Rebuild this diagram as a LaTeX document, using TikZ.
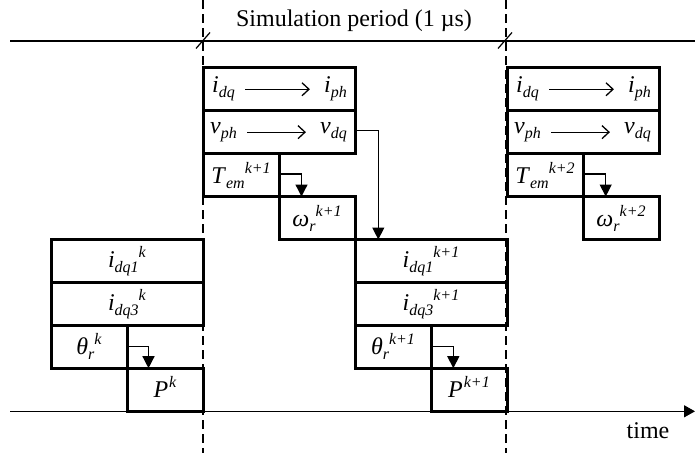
\documentclass[tikz,border=0pt]{standalone}
\usepackage{fontspec}
\setmainfont{Liberation Serif}
\usetikzlibrary{arrows.meta,calc}
\newcommand{\smf}{\fontsize{16}{16}\selectfont}
\newcommand{\vsym}[3]{\textit{#1}\raisebox{-5pt}{\smf\textit{#2}}\raisebox{10pt}{\smf\textit{#3}}}
\tikzset{
  box/.style={draw, line width=3pt, minimum width=152pt, minimum height=42.9pt,
    inner sep=0pt, outer sep=0pt, anchor=north west, font=\fontsize{24}{28}\selectfont},
  half/.style={box, minimum width=76pt},
  lab/.style={inner sep=0pt, font=\fontsize{24}{28}\selectfont},
  flow/.style={line width=1.3pt, -{Triangle[length=12pt,width=12pt]}},
  inarrow/.style={line width=1.3pt, -{Straight Barb[length=7pt,width=13pt]}},
  axisline/.style={line width=1.4pt},
  vdash/.style={line width=1.2pt, dash pattern=on 9pt off 5pt},
}
\begin{document}
\begin{tikzpicture}[x=1pt,y=-1pt]
\useasboundingbox (0,0) rectangle (695,453);
% dashed period markers
\coordinate (dt1) at (203,0); \coordinate (db1) at (203,453);
\coordinate (dt2) at (506,0); \coordinate (db2) at (506,453);
\draw[vdash] (dt1) -- (db1);
\draw[vdash] (dt2) -- (db2);
% top line
\coordinate (tl) at (10,41); \coordinate (tr) at (695,41);
\draw[axisline] (tl) -- (tr);
\coordinate (x1) at (203,41); \coordinate (x2) at (505,41);
\draw[line width=1.2pt] ($(x1)+(-7,7.5)$) -- ($(x1)+(7,-8.5)$);
\draw[line width=1.2pt] ($(x2)+(-7,7.5)$) -- ($(x2)+(7,-8.5)$);
\node[lab] (title) at (354,21) {Simulation period (1 µs)};
% time axis
\coordinate (bl) at (10,411.3); \coordinate (br) at (695,411.3);
\draw[axisline, -{Triangle[length=11pt,width=12pt]}] (bl) -- (br);
\node[lab] (time) at (648,431) {time};
% column A
\node[box] (A1) at (51,239.5) {\vsym{i}{dq1}{k}};
\node[box] (A2) at (51,282.4) {\vsym{i}{dq3}{k}};
\node[half] (A3) at (51,325.3) {\vsym{θ}{r}{k}};
\node[half] (A4) at (127,368.2) {\vsym{P}{}{\kern1pt k}};
% column B
\node[box] (B1) at (203,67.8) {};
\node[box] (B2) at (203,110.7) {};
\node[half] (B3) at (203,153.6) {\vsym{T}{em}{k+1}};
\node[half] (B4) at (279,196.5) {\vsym{ω}{r}{k+1}};
% column C
\node[box] (C1) at (355,239.5) {\vsym{i}{dq1}{k+1}};
\node[box] (C2) at (355,282.4) {\vsym{i}{dq3}{k+1}};
\node[half] (C3) at (355,325.3) {\vsym{θ}{r}{k+1}};
\node[half] (C4) at (431,368.2) {\vsym{P}{}{\kern1pt k+1}};
% column D
\node[box] (D1) at (507,67.8) {};
\node[box] (D2) at (507,110.7) {};
\node[half] (D3) at (507,153.6) {\vsym{T}{em}{k+2}};
\node[half] (D4) at (583,196.5) {\vsym{ω}{r}{k+2}};
% labels inside conversion boxes
\foreach \b in {B,D}{
  \node[lab, anchor=west] (\b1l) at ($(\b1.west)+(9,0)$) {\vsym{i}{dq}{}};
  \node[lab, anchor=east] (\b1r) at ($(\b1.east)+(-8,0)$) {\vsym{i}{ph}{}};
  \node[lab, anchor=west] (\b2l) at ($(\b2.west)+(7,0)$) {\vsym{v}{ph}{}};
  \node[lab, anchor=east] (\b2r) at ($(\b2.east)+(-8,0)$) {\vsym{v}{dq}{}};
  \draw[inarrow] ($(\b1l.east |- \b1.center)+(10,0)$) -- ($(\b1r.west |- \b1.center)+(-14,0)$);
  \draw[inarrow] ($(\b2l.east |- \b2.center)+(10,0)$) -- ($(\b2r.west |- \b2.center)+(-14,0)$);
}
% flow connectors
\draw[flow] ($(A3.east)+(0,0)$) -- ++(21.5,0) coordinate (ja) -- (ja |- A4.north);
\draw[flow] ($(B3.east)+(0,-1)$) -- ++(22.5,0) coordinate (jb) -- (jb |- B4.north);
\draw[flow] ($(B2.east)+(0,-1.5)$) -- ++(23.3,0) coordinate (jv) -- (jv |- C1.north);
\draw[line width=1.3pt] ($(B4.east)+(0,-1.5)$) -- ($(B4.east)+(0,-1.5)$ -| jv);
\draw[flow] ($(C3.east)+(0,0)$) -- ++(22.3,0) coordinate (jc) -- (jc |- C4.north);
\draw[flow] ($(D3.east)+(0,-1)$) -- ++(22.7,0) coordinate (jd) -- (jd |- D4.north);
\end{tikzpicture}
\end{document}
